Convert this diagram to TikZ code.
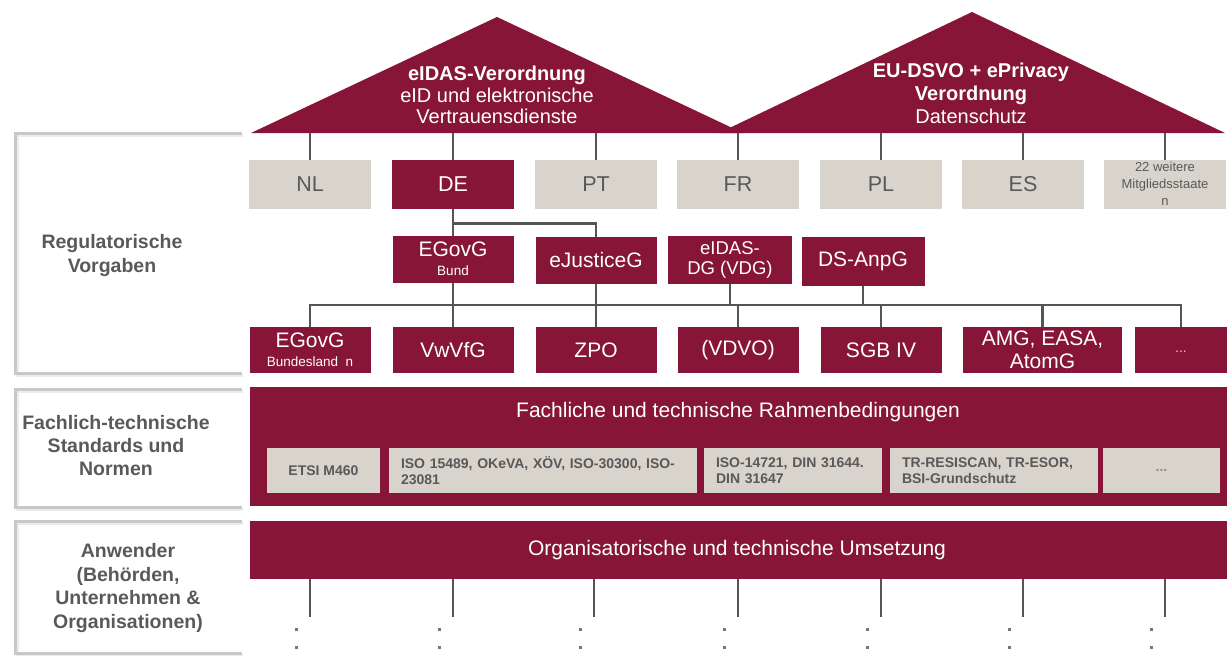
\documentclass[tikz,border=0pt]{standalone}
\usepackage{fontspec}
\setmainfont{Liberation Sans}
\usetikzlibrary{calc}

\definecolor{wine}{RGB}{134,21,56}
\definecolor{stone}{RGB}{216,212,203}
\definecolor{ink}{RGB}{89,89,89}
\definecolor{framegrey}{RGB}{200,200,200}
\definecolor{wiregrey}{RGB}{85,85,85}

\newcommand\setfs[2]{\fontsize{#1}{#2}\selectfont}

\tikzset{
  cell/.style={rectangle, inner sep=0pt, outer sep=0pt, align=center},
  redcell/.style={cell, fill=wine, text=white},
  greycell/.style={cell, fill=stone, text=ink},
  country/.style={greycell, minimum width=122pt, minimum height=49pt, font=\setfs{21.5}{24}},
  law/.style={redcell, minimum width=121pt, minimum height=47pt, font=\setfs{21}{22}},
  lowlaw/.style={redcell, minimum height=46pt, font=\setfs{21}{23}},
  norm/.style={greycell, minimum height=45pt, text width=#1, align=left, font=\bfseries\setfs{14}{16.5}},
  wire/.style={draw=wiregrey, line width=2.2pt},
  bracket/.style={draw=framegrey, line width=3pt},
  bracketshade/.style={draw=black!8, line width=3pt},
  sidelabel/.style={text=ink, align=center},
  dot/.style={fill=wiregrey!80, rectangle, inner sep=0pt, minimum size=3pt},
}

\begin{document}
\begin{tikzpicture}[x=1pt, y=-1pt]
  \useasboundingbox (0,0) rectangle (1232,656);

  % ---- open frames of the three level labels ----
  \foreach \t/\b in {133/373, 389/507, 521/653} {
    \draw[bracketshade] (243,\t+2) -- (17,\t+2) -- (17,\b+2) -- (243,\b+2);
    \draw[bracket] (242,\t) -- (15,\t) -- (15,\b) -- (242,\b);
  }
  \node[sidelabel, font=\bfseries\setfs{19.5}{24}] (lvlreg) at (112,255) {Regulatorische\\Vorgaben};
  \node[sidelabel, font=\bfseries\setfs{19.5}{23}] (lvlstd) at (116,446) {Fachlich-technische\\Standards und\\Normen};
  \node[sidelabel, font=\bfseries\setfs{19.5}{23.5}] (lvluse) at (128,588) {Anwender\\(Behörden,\\Unternehmen \&\\Organisationen)};

  % ---- the two EU regulations as roofs ----
  \fill[wine] (251,133) -- (497,17) -- (743,133) -- cycle;
  \fill[wine] (719,133) -- (972,12) -- (1225,133) -- cycle;
  \coordinate (roofbase) at (0,133);
  \node[cell, text=white, font=\setfs{20}{21.5}] (eidas) at (497,95)
    {\textbf{eIDAS-Verordnung}\\eID und elektronische\\Vertrauensdienste};
  \node[cell, text=white, font=\setfs{20}{23}] (dsvo) at (971,93)
    {\textbf{EU-DSVO + ePrivacy}\\\textbf{Verordnung}\\Datenschutz};

  % ---- member states ----
  \node[country] (nl) at (310,184) {NL};
  \node[country, fill=wine, text=white] (de) at (453,184) {\raisebox{-4pt}{DE}};
  \node[country] (pt) at (596,184) {PT};
  \node[country] (fr) at (738,184) {FR};
  \node[country] (pl) at (881,184) {PL};
  \node[country] (es) at (1023,184) {ES};
  \node[country, font=\setfs{13}{17}] (more) at (1165,184) {22 weitere\\Mitgliedsstaate\\n};

  \foreach \c in {nl,de,pt,fr,pl,es,more}
    \draw[wire] (\c.north) -- (\c.north |- roofbase);

  % ---- federal laws ----
  \node[law] (egov) at (453,259) {EGovG\\[-3pt]{\setfs{13.5}{14}Bund}};
  \node[law] (ejus) at (596,260) {eJusticeG};
  \node[law, minimum width=124pt, minimum height=48pt, font=\setfs{18.5}{19.5}] (vdg) at (730,260) {eIDAS-\\DG (VDG)};
  \node[law, minimum width=123pt, minimum height=49pt] (anpg) at (863,261) {\raisebox{4pt}{DS-AnpG}};

  \draw[wire] (de.south) -- (egov.north);
  \draw[wire] (de.south) -- ++(0,15) -| (ejus.north);

  % ---- specific laws ----
  \node[lowlaw, minimum width=121pt] (egovbl) at (310,350) {EGovG\\[-4pt]{\setfs{13.5}{14}Bundesland\ \ n}};
  \node[lowlaw, minimum width=121pt] (vwvfg) at (453,350) {\raisebox{-4pt}{VwVfG}};
  \node[lowlaw, minimum width=121pt] (zpo) at (596,350) {ZPO};
  \node[lowlaw, minimum width=121pt] (vdvo) at (738,350) {\raisebox{-4pt}{(VDVO)}};
  \node[lowlaw, minimum width=121pt] (sgb) at (881,350) {\raisebox{-4pt}{SGB IV}};
  \node[lowlaw, minimum width=159pt] (amg) at (1042.5,350) {AMG, EASA,\\AtomG};
  \node[lowlaw, minimum width=92pt, font=\setfs{14}{16}] (etc) at (1181,350) {\raisebox{-4pt}{\textcolor{white!75!wine}{...}}};

  \coordinate (bus) at (0,305);
  \draw[wire] (egovbl.north) -- (egovbl.north |- bus) -- (etc.north |- bus) -- (etc.north);
  \draw[wire] (egov.south) -- (vwvfg.north);
  \draw[wire] (ejus.south) -- (zpo.north);
  \draw[wire] (vdg.south) -- (vdg.south |- bus);
  \draw[wire] (anpg.south) -- (anpg.south |- bus);
  \foreach \c in {vdvo,sgb,amg}
    \draw[wire] (\c.north) -- (\c.north |- bus);

  % ---- technical standards ----
  \node[redcell, minimum width=977pt, minimum height=119pt] (frame) at (738.5,446.5) {};
  \node[cell, text=white, font=\setfs{21}{22}] (frametitle) at (738,412) {Fachliche und technische Rahmenbedingungen};
  \node[greycell, minimum width=113pt, minimum height=45pt, font=\bfseries\setfs{14}{16}] (etsi) at (323.5,470.5) {ETSI M460};
  \node[norm=284pt, minimum width=308pt] (iso) at (543,470.5) {ISO 15489, OKeVA, XÖV, ISO-30300, ISO-\\23081};
  \node[norm=154pt, minimum width=178pt] (din) at (793,470.5) {ISO-14721, DIN 31644.\\DIN 31647};
  \node[norm=184pt, minimum width=208pt] (tr) at (994,470.5) {TR-RESISCAN, TR-ESOR,\\BSI-Grundschutz};
  \node[greycell, minimum width=117pt, minimum height=45pt, font=\bfseries\setfs{14}{16}] (normetc) at (1161.5,470.5) {\textcolor{ink!70}{...}};

  % ---- implementation by the users ----
  \node[redcell, minimum width=977pt, minimum height=58pt] (impl) at (738.5,550) {};
  \node[cell, text=white, font=\setfs{21}{22}] (impltitle) at (737,550) {Organisatorische und technische Umsetzung};

  \foreach \x [count=\i] in {310,453,594,738,881,1023,1165} {
    \coordinate (leg\i) at (\x,617);
    \draw[wire] (impl.south -| leg\i) -- (leg\i);
    \node[dot] (upper\i) at (\x-14,629) {};
    \node[dot] (lower\i) at (\x-14,647) {};
  }
\end{tikzpicture}
\end{document}
